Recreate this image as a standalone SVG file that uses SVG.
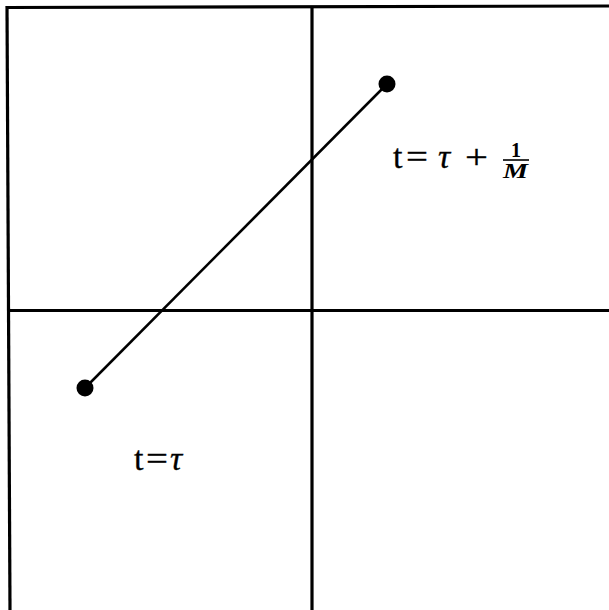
<svg xmlns="http://www.w3.org/2000/svg" width="609" height="610" viewBox="0 0 609 610">
<style>
.grid{stroke:#000;stroke-width:3.2;fill:none}
.seg{stroke:#000;stroke-width:2.5;fill:none}
.dot{fill:#000}
.lbl{font-family:"Liberation Serif","DejaVu Serif",serif;font-size:34px;fill:#000;stroke:#000;stroke-width:0.3}
.it{font-style:italic}
.frac{font-family:"Liberation Serif","DejaVu Serif",serif;font-size:20px;font-weight:bold;fill:#000}
</style>
<rect width="609" height="610" fill="#fff"/>
<g id="grid">
<line class="grid" x1="6" y1="7.5" x2="609" y2="6"/>
<line class="grid" x1="7" y1="6" x2="10" y2="610"/>
<line class="grid" x1="8" y1="310.5" x2="609" y2="310.5"/>
<line class="grid" x1="312" y1="6" x2="312" y2="610"/>
</g>
<g id="connectors">
<line class="seg" x1="85" y1="388" x2="387" y2="84"/>
</g>
<g id="node-end">
<circle class="dot" cx="387" cy="84" r="8.5"/>
</g>
<g id="node-start">
<circle class="dot" cx="85" cy="388" r="8.5"/>
</g>
<g id="label-end">
<text class="lbl" x="393" y="168">t</text>
<text class="lbl" x="406" y="168" textLength="22" lengthAdjust="spacingAndGlyphs">=</text>
<text class="lbl it" x="438" y="168">τ</text>
<text class="lbl" x="465" y="168" textLength="23" lengthAdjust="spacingAndGlyphs">+</text>
<text class="frac" x="511" y="157">1</text>
<line x1="503" y1="160" x2="529" y2="160" stroke="#000" stroke-width="1.6"/>
<text class="frac it" x="503" y="178" textLength="25" lengthAdjust="spacingAndGlyphs">M</text>
</g>
<g id="label-start">
<text class="lbl" x="134" y="470">t</text>
<text class="lbl" x="146" y="470" textLength="22" lengthAdjust="spacingAndGlyphs">=</text>
<text class="lbl it" x="170" y="470">τ</text>
</g>
</svg>
